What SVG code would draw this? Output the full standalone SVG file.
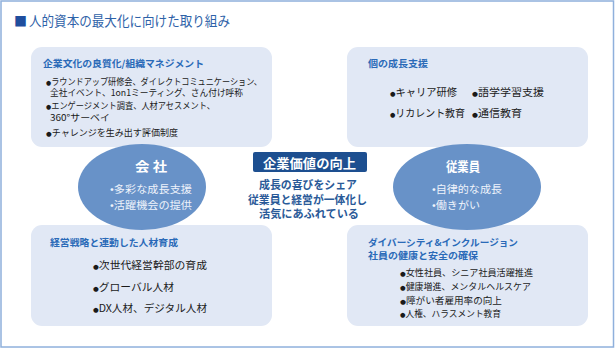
<svg xmlns="http://www.w3.org/2000/svg" width="615" height="349" viewBox="0 0 615 349">
<style>
text{font-family:"Noto Sans CJK JP","Noto Sans",sans-serif}
.box{fill:#e1e8f5}
.ell{fill:#6892c8}
.hd{fill:#2a6ab8;font-size:9.5px;font-weight:bold}
.b1{fill:#1a1a1a;font-size:9px}
.b2{fill:#1a1a1a;font-size:10.5px}
.bu{font-family:"DejaVu Sans",sans-serif;font-size:6.5px}
.ew{fill:#fff;font-size:13px;font-weight:bold}
.eb{fill:#eef3fb;font-size:10.5px}
.ct{fill:#2a5a98;font-size:11.5px;font-weight:bold}
</style>
<rect x="1" y="1" width="612.5" height="346" fill="#fff" stroke="#8fb0dc" stroke-width="1.5"/>
<g id="title">
<text x="14" y="26" font-size="13" fill="#1f4e9e">■</text>
<text x="29" y="26" font-size="13.5" fill="#2e62a8" textLength="201" lengthAdjust="spacingAndGlyphs">人的資本の最大化に向けた取り組み</text>
</g>
<g id="connectors"></g>
<g id="box-tl">
<rect class="box" x="31" y="47" width="241" height="100" rx="11"/>
<text class="hd" x="43" y="67" textLength="161" lengthAdjust="spacingAndGlyphs">企業文化の良質化/組織マネジメント</text>
<text class="b1" x="46" y="85" textLength="216" lengthAdjust="spacingAndGlyphs"><tspan class="bu">●</tspan>ラウンドアップ研修会、ダイレクトコミュニケーション、</text>
<text class="b1" x="50" y="96" textLength="193" lengthAdjust="spacingAndGlyphs">全社イベント、1on1ミーティング、さん付け呼称</text>
<text class="b1" x="46" y="109" textLength="169" lengthAdjust="spacingAndGlyphs"><tspan class="bu">●</tspan>エンゲージメント調査、人材アセスメント、</text>
<text class="b1" x="50" y="121" textLength="60" lengthAdjust="spacingAndGlyphs">360°サーベイ</text>
<text class="b1" x="46" y="136" textLength="132" lengthAdjust="spacingAndGlyphs"><tspan class="bu">●</tspan>チャレンジを生み出す評価制度</text>
</g>
<g id="box-tr">
<rect class="box" x="347" y="47" width="241" height="100" rx="11"/>
<text class="hd" x="368" y="67" textLength="60" lengthAdjust="spacingAndGlyphs">個の成長支援</text>
<text class="b2" x="390" y="96" textLength="67" lengthAdjust="spacingAndGlyphs"><tspan class="bu">●</tspan>キャリア研修</text>
<text class="b2" x="472" y="96" textLength="72" lengthAdjust="spacingAndGlyphs"><tspan class="bu">●</tspan>語学学習支援</text>
<text class="b2" x="390" y="117" textLength="75" lengthAdjust="spacingAndGlyphs"><tspan class="bu">●</tspan>リカレント教育</text>
<text class="b2" x="472" y="117" textLength="50" lengthAdjust="spacingAndGlyphs"><tspan class="bu">●</tspan>通信教育</text>
</g>
<g id="box-bl">
<rect class="box" x="31" y="225" width="241" height="101" rx="11"/>
<text class="hd" x="50" y="246" textLength="128" lengthAdjust="spacingAndGlyphs">経営戦略と連動した人材育成</text>
<text class="b2" x="93" y="269" textLength="114" lengthAdjust="spacingAndGlyphs"><tspan class="bu">●</tspan>次世代経営幹部の育成</text>
<text class="b2" x="93" y="291" textLength="81" lengthAdjust="spacingAndGlyphs"><tspan class="bu">●</tspan>グローバル人材</text>
<text class="b2" x="93" y="312" textLength="114" lengthAdjust="spacingAndGlyphs"><tspan class="bu">●</tspan>DX人材、デジタル人材</text>
</g>
<g id="box-br">
<rect class="box" x="347" y="225" width="241" height="101" rx="11"/>
<text class="hd" x="368" y="246" textLength="150" lengthAdjust="spacingAndGlyphs">ダイバーシティ&amp;インクルージョン</text>
<text class="hd" x="368" y="259" textLength="110" lengthAdjust="spacingAndGlyphs">社員の健康と安全の確保</text>
<text class="b1" x="400" y="276" textLength="133" lengthAdjust="spacingAndGlyphs"><tspan class="bu">●</tspan>女性社員、シニア社員活躍推進</text>
<text class="b1" x="400" y="290" textLength="131" lengthAdjust="spacingAndGlyphs"><tspan class="bu">●</tspan>健康増進、メンタルヘルスケア</text>
<text class="b1" x="400" y="304" textLength="102" lengthAdjust="spacingAndGlyphs"><tspan class="bu">●</tspan>障がい者雇用率の向上</text>
<text class="b1" x="400" y="317" textLength="101" lengthAdjust="spacingAndGlyphs"><tspan class="bu">●</tspan>人権、ハラスメント教育</text>
</g>
<g id="ell-company">
<ellipse class="ell" cx="142" cy="187" rx="64" ry="43"/>
<text class="ew" x="135" y="171" textLength="32" lengthAdjust="spacingAndGlyphs">会 社</text>
<text class="eb" x="110" y="193" textLength="82" lengthAdjust="spacingAndGlyphs">•多彩な成長支援</text>
<text class="eb" x="110" y="209" textLength="82" lengthAdjust="spacingAndGlyphs">•活躍機会の提供</text>
</g>
<g id="ell-employee">
<ellipse class="ell" cx="467" cy="187" rx="74" ry="43"/>
<text class="ew" x="446" y="171" textLength="34" lengthAdjust="spacingAndGlyphs">従業員</text>
<text class="eb" x="432" y="193" textLength="70" lengthAdjust="spacingAndGlyphs">•自律的な成長</text>
<text class="eb" x="432" y="209" textLength="48" lengthAdjust="spacingAndGlyphs">•働きがい</text>
</g>
<g id="center">
<rect x="253" y="152" width="114" height="20" rx="2" fill="#1d4f90"/>
<text x="263" y="168" font-size="13" font-weight="bold" fill="#fff" textLength="93" lengthAdjust="spacingAndGlyphs">企業価値の向上</text>
<text class="ct" x="259" y="189" textLength="98" lengthAdjust="spacingAndGlyphs">成長の喜びをシェア</text>
<text class="ct" x="248" y="204" textLength="119" lengthAdjust="spacingAndGlyphs">従業員と経営が一体化し</text>
<text class="ct" x="259" y="218" textLength="100" lengthAdjust="spacingAndGlyphs">活気にあふれている</text>
</g>
</svg>
